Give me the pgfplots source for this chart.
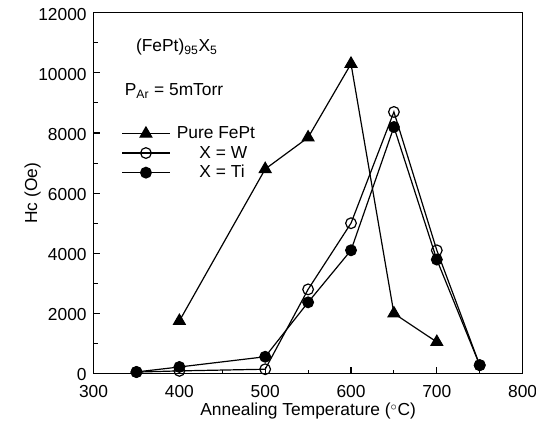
\documentclass[border=0pt]{standalone}
\usepackage{pgfplots}
\pgfplotsset{compat=1.18}
\usepackage{fontspec}
\setmainfont{Liberation Sans}

\begin{document}
\begin{tikzpicture}[font=\fontsize{13}{15}\selectfont]
\begin{axis}[
    scale only axis,
    width=321pt, height=270pt,
    xmin=300, xmax=800,
    ymin=0, ymax=12000,
    xtick={300,400,500,600,700,800},
    ytick={0,2000,4000,6000,8000,10000,12000},
    minor x tick num=1,
    minor y tick num=1,
    tick align=inside,
    major tick length=5pt,
    minor tick length=3pt,
    xtick pos=bottom, ytick pos=left,
    axis line style={line width=1pt},
    every tick/.style={black, line width=0.8pt},
    scaled ticks=false,
    /pgf/number format/assume math mode=true,
    /pgf/number format/1000 sep={},
    xticklabel style={inner sep=1pt, yshift=-7.5pt},
    yticklabel style={inner sep=1pt, yshift=-1pt, xshift=-4pt},
    xlabel={Annealing Temperature ($^{\circ}$C)},
    xlabel style={at={(axis description cs:0.5,-0.105)}, anchor=center},
    ylabel={Hc (Oe)},
    ylabel style={at={(axis description cs:-0.112,0.5)}, anchor=south},
    legend cell align=left,
    legend style={draw=none, fill=none, at={(axis cs:331,8350)}, anchor=north west,
        row sep=0pt, inner sep=1pt,
        /tikz/every odd column/.append style={column sep=3pt}},
    legend image code/.code={
        \draw[mark repeat=2, mark phase=2, #1] plot coordinates {(0cm,0cm) (0.62cm,0cm) (1.24cm,0cm)};
    },
]
\addplot[black, line width=0.9pt, mark=triangle*, mark size=5pt, mark options={solid}]
    coordinates {(400,1750)(500,6800)(550,7850)(600,10300)(650,2000)(700,1050)};
\addplot[black, line width=0.9pt, mark=o, mark size=4pt, mark options={fill=white, line width=0.9pt}]
    coordinates {(350,50)(400,90)(500,145)(550,2800)(600,5000)(650,8700)(700,4100)(750,280)};
\addplot[black, line width=0.9pt, mark=*, mark size=4pt]
    coordinates {(350,55)(400,220)(500,560)(550,2370)(600,4100)(650,8200)(700,3790)(750,280)};
\legend{Pure FePt, \hspace{1.3em}X = W, \hspace{1.3em}X = Ti}
\node[anchor=west] at (axis cs:344,10850) {(FePt)\textsubscript{95}X\textsubscript{5}};
\node[anchor=west] at (axis cs:331,9400) {P\textsubscript{Ar} = 5mTorr};
\end{axis}
\pgfresetboundingbox
\path ([shift={(-70pt,-46.5pt)}]current axis.south west) rectangle ([shift={(10pt,9.5pt)}]current axis.north east);
\end{tikzpicture}
\end{document}
